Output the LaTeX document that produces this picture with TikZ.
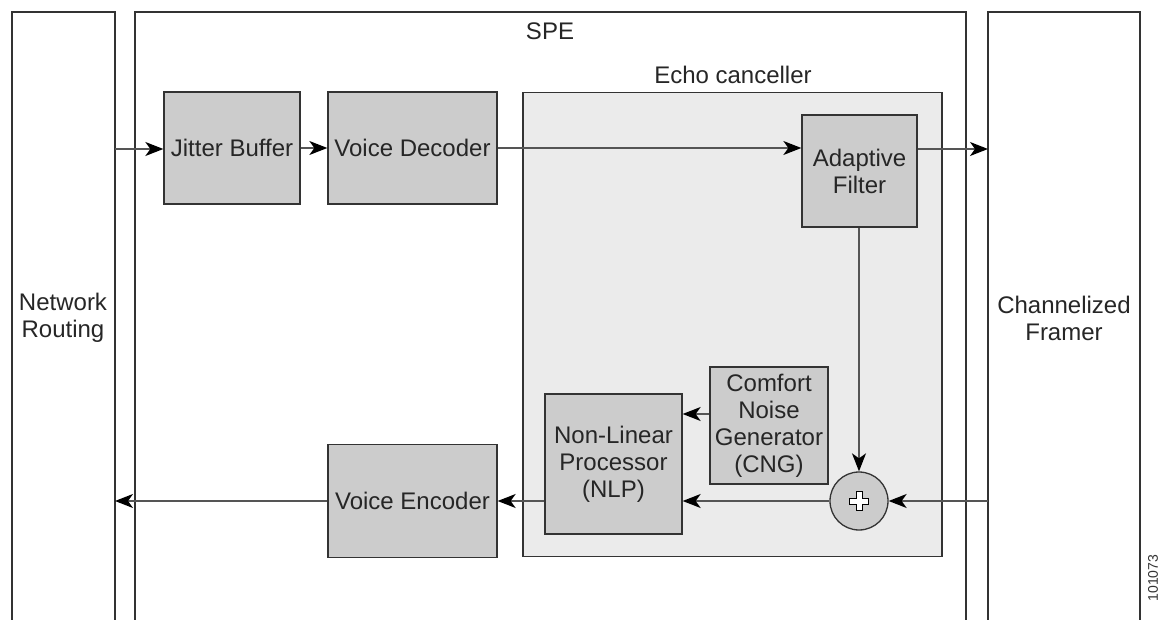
\documentclass[tikz,border=0pt]{standalone}
\usepackage{fontspec}
\setmainfont{Liberation Sans}
\usetikzlibrary{arrows.meta}
\definecolor{boxgray}{HTML}{CCCCCC}
\definecolor{ecgray}{HTML}{EBEBEB}
\definecolor{linegray}{HTML}{555555}
\definecolor{edgegray}{HTML}{333333}
\tikzset{
  blk/.style={draw=edgegray, line width=1.3pt, fill=boxgray, align=center, inner sep=0pt,
    font=\fontsize{24}{27}\selectfont, text=black!85},
  lbl/.style={align=center, inner sep=0pt, font=\fontsize{24}{27}\selectfont, text=black!85},
  frame/.style={draw=edgegray, line width=1.3pt},
  arr/.style={draw=linegray, line width=1.4pt, -{Stealth[length=18pt,width=14pt,inset=5pt,color=black,fill=black]}},
}
\begin{document}
\begin{tikzpicture}[x=1pt,y=-1pt]
\useasboundingbox (0,0) rectangle (1163,620);
% open frames
\draw[frame] (12,620) -- (12,12) -- (115,12) -- (115,620);
\draw[frame] (135,620) -- (135,12) -- (966,12) -- (966,620);
\draw[frame] (988,620) -- (988,12) -- (1140,12) -- (1140,620);
\coordinate (linL) at (115,149);
\coordinate (loutL) at (115,501);
\coordinate (routR) at (988,149);
\coordinate (rinR) at (988,501);
% labels
\node[lbl] (spe) at (550,31) {SPE};
\node[lbl] (netrt) at (63,318) {Network\\Routing};
\node[lbl] (chfr) at (1064,318) {Channelized\\Framer};
\node[lbl] (eclbl) at (733,75) {Echo canceller};
\node[rotate=90, inner sep=0pt, font=\fontsize{14}{16}\selectfont, text=black!80] (fig) at (1153,578) {101073};
% echo canceller region
\node[draw=edgegray, line width=1.3pt, fill=ecgray, minimum width=419pt, minimum height=464pt, inner sep=0pt] (ec) at (732.5,324.5) {};
% blocks
\node[blk, minimum width=136pt, minimum height=112pt] (jb) at (232,148) {Jitter Buffer};
\node[blk, minimum width=169pt, minimum height=112pt] (vd) at (412.5,148) {Voice Decoder};
\node[blk, minimum width=115pt, minimum height=112pt] (af) at (859.5,171) {Adaptive\\Filter};
\node[blk, minimum width=118pt, minimum height=117pt] (cng) at (769,425.5) {Comfort\\Noise\\Generator\\(CNG)};
\node[blk, minimum width=137pt, minimum height=140pt] (nlp) at (613.5,464) {Non-Linear\\Processor\\(NLP)};
\node[blk, minimum width=169pt, minimum height=113pt] (ve) at (412.5,501) {Voice Encoder};
\node[draw=edgegray, line width=1.3pt, fill=boxgray, circle, minimum size=58pt, inner sep=0pt] (sum) at (859,501) {};
\draw[draw=black, line width=0.9pt, fill=white]
  (sum.center) ++(-3,-9.5) -- ++(6,0) -- ++(0,6.5) -- ++(6.5,0) -- ++(0,6) -- ++(-6.5,0) -- ++(0,6.5)
  -- ++(-6,0) -- ++(0,-6.5) -- ++(-6.5,0) -- ++(0,-6) -- ++(6.5,0) -- cycle;
% connectors
\draw[arr] (linL) -- (linL -| jb.west);
\draw[arr] (jb.east) -- (vd.west);
\draw[arr] (vd.east) -- (vd.east -| af.west);
\draw[arr] (af.east |- routR) -- (routR);
\draw[arr] (af.south -| sum.north) -- (sum.north);
\draw[arr] (rinR) -- (sum.east);
\draw[arr] (sum.west) -- (sum.west -| nlp.east);
\draw[arr] ([yshift=11.5pt]cng.west) -- ([yshift=11.5pt]cng.west -| nlp.east);
\draw[arr] (ve.east -| nlp.west) -- (ve.east);
\draw[arr] (ve.west) -- (loutL);
\end{tikzpicture}
\end{document}
